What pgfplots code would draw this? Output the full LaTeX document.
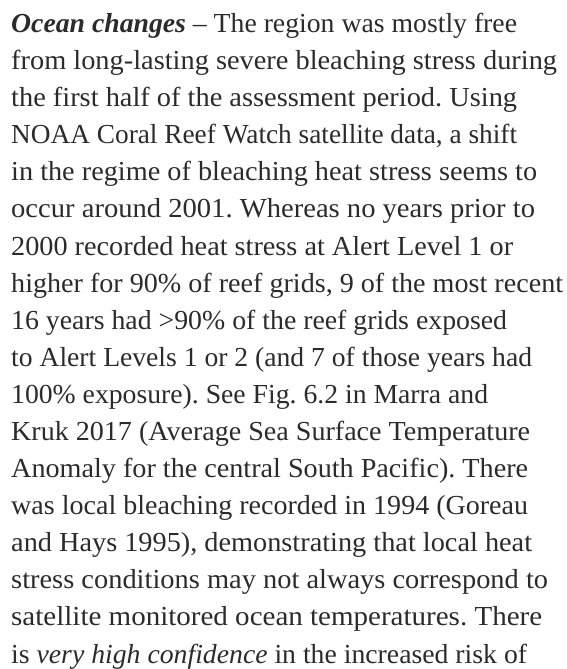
\documentclass[border=0pt]{standalone}
\usepackage{fontspec}
\setmainfont{Liberation Serif}
\usepackage{xcolor}
\usepackage{graphicx}
\usepackage{pgfplots}
\pgfplotsset{compat=1.18}
\definecolor{txt}{HTML}{2B2B2B}
\frenchspacing

\newlength\natw
% one line of the paragraph: baseline y, line width, text
\newcommand{\para}[3]{%
  \node[anchor=base west, inner sep=0pt, text=txt, font=\fontsize{27.5}{37}\selectfont]
    at (axis cs:11,#1) {\settowidth{\natw}{#3}\pgfmathsetmacro\sx{#2/\natw}\scalebox{\sx}[1]{#3}};}

\begin{document}
\begin{tikzpicture}
\begin{axis}[
  scale only axis,
  width=567pt, height=669pt,
  xmin=0, xmax=567, ymin=0, ymax=669,
  y dir=reverse,
  hide axis,
  clip=false
]
\addplot[draw=none] coordinates {(0,0) (567,669)};
\para{32.5}{506}{\textbf{\textit{Ocean changes}} – The region was mostly free}
\para{69.6}{546}{from long-lasting severe bleaching stress during}
\para{106.7}{506}{the first half of the assessment period. Using}
\para{143.8}{506}{NOAA Coral Reef Watch satellite data, a shift}
\para{180.9}{526}{in the regime of bleaching heat stress seems to}
\para{218.0}{524}{occur around 2001. Whereas no years prior to}
\para{255.1}{502}{2000 recorded heat stress at Alert Level 1 or}
\para{292.2}{552}{higher for 90\% of reef grids, 9 of the most recent}
\para{329.3}{496}{16 years had >90\% of the reef grids exposed}
\para{366.4}{521}{to Alert Levels 1 or 2 (and 7 of those years had}
\para{403.5}{477}{100\% exposure). See Fig. 6.2 in Marra and}
\para{440.6}{519}{Kruk 2017 (Average Sea Surface Temperature}
\para{477.7}{517}{Anomaly for the central South Pacific). There}
\para{514.8}{517}{was local bleaching recorded in 1994 (Goreau}
\para{551.9}{521}{and Hays 1995), demonstrating that local heat}
\para{589.0}{537}{stress conditions may not always correspond to}
\para{626.1}{531}{satellite monitored ocean temperatures. There}
\para{663.2}{516}{is \textit{very high confidence} in the increased risk of}
\end{axis}
\end{tikzpicture}
\end{document}
